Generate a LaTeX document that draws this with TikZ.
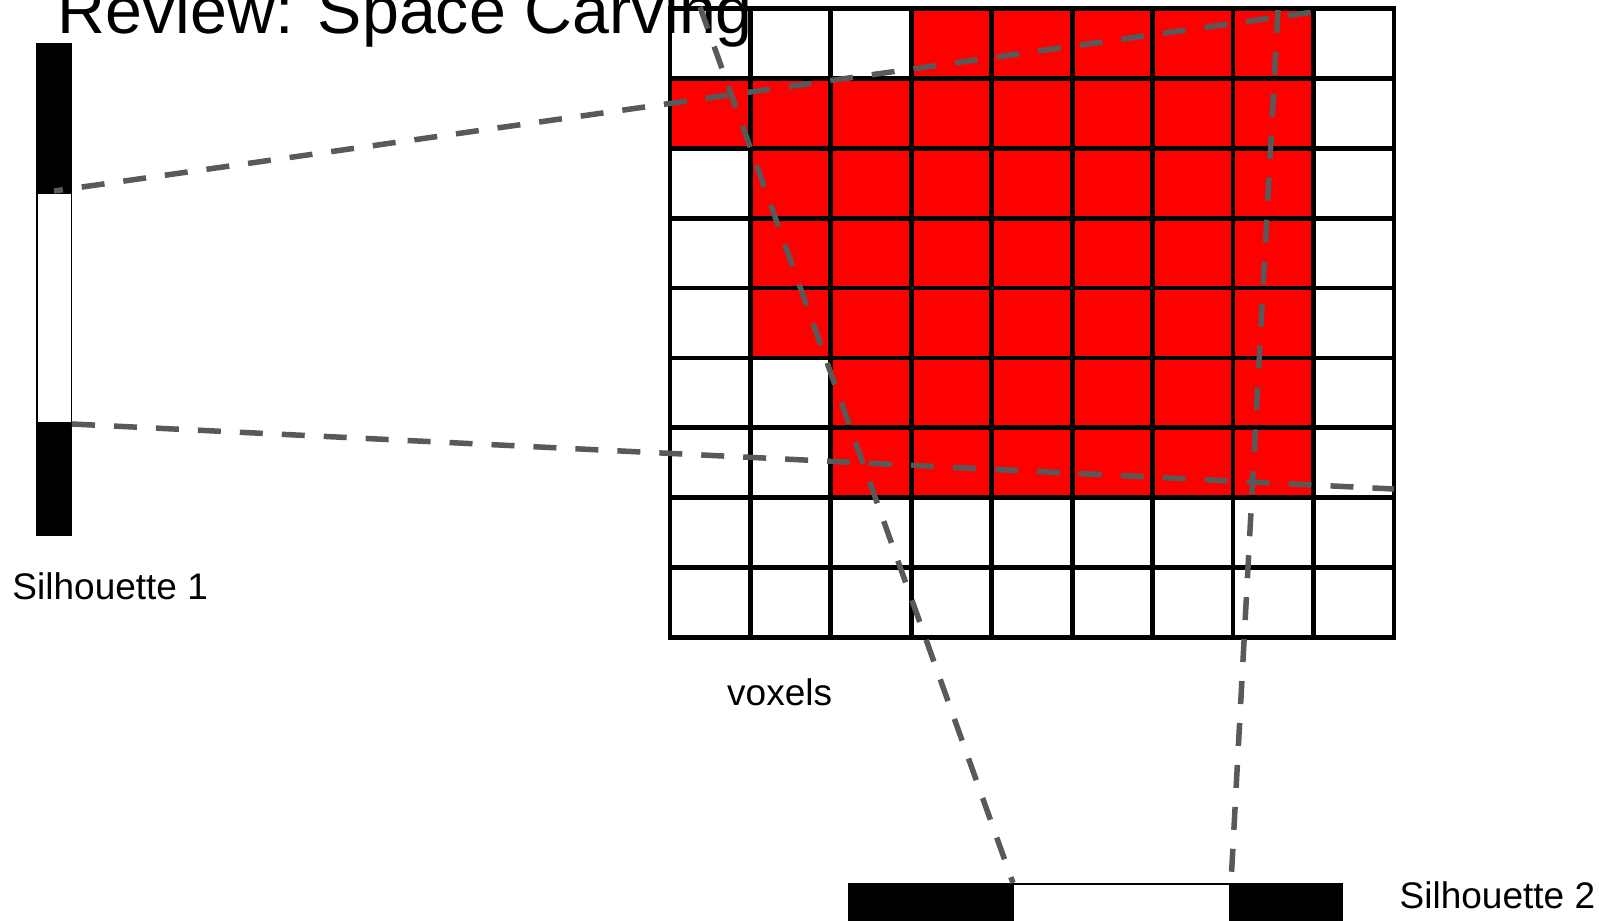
\documentclass[tikz,border=0pt]{standalone}
\usepackage{fontspec}
\setmainfont{Liberation Sans}
\definecolor{raygray}{RGB}{89,89,89}
\definecolor{voxred}{RGB}{255,0,0}
\begin{document}
\begin{tikzpicture}[x=1pt,y=-1pt,
  gridline/.style={line width=4.8pt, black, line cap=rect},
  ray/.style={draw=raygray, line width=5.5pt, dash pattern=on 23pt off 19pt},
  lbl/.style={inner sep=0pt, anchor=base west, font=\fontsize{37}{40}\selectfont},
  titlelbl/.style={inner sep=0pt, anchor=base west, font=\fontsize{66.3}{72}\selectfont},
  barblack/.style={fill=black, draw=none, inner sep=0pt, outer sep=0pt},
  barwhite/.style={fill=white, draw=black, line width=1.5pt, inner sep=0pt, outer sep=0pt},
]
\useasboundingbox (0,0) rectangle (1599,921);
\fill[white] (0,0) rectangle (1599,921);

% title
\node[titlelbl] (title) at (57.5,33.8) {Review: Space Carving};

% voxel grid
\node[inner sep=0pt, minimum width=724pt, minimum height=628.6pt] (voxgrid) at (1032,323) {};
\foreach \r/\a/\b in {0/3/7,1/0/7,2/1/7,3/1/7,4/1/7,5/2/7,6/2/7}
  \fill[voxred] ({670+\a*80.44},{8.7+\r*69.84}) rectangle ({670+(\b+1)*80.44},{8.7+(\r+1)*69.84});
\foreach \i in {0,...,9} {
  \draw[gridline] ({670+\i*80.44},8.7) -- ({670+\i*80.44},637.3);
  \draw[gridline] (670,{8.7+\i*69.84}) -- (1394,{8.7+\i*69.84});
}
\node[lbl] (voxlbl) at (727,705.7) {voxels};

% silhouette 1
\node[barblack, minimum width=36pt, minimum height=493pt] (s1) at (54,289.5) {};
\node[barwhite, minimum width=34.5pt, minimum height=230pt] (s1w) at (54,308) {};
\node[lbl] (s1lbl) at (12.3,599.3) {Silhouette 1};

% silhouette 2
\node[barblack, minimum width=495pt, minimum height=42pt] (s2) at (1095.5,904) {};
\node[barwhite, minimum width=217pt, minimum height=42pt] (s2w) at (1121.5,904.75) {};
\node[lbl] (s2lbl) at (1399.5,908.5) {Silhouette 2};

% ray end points
\coordinate (r1a) at (54,191);   \coordinate (r1b) at (1313,12);
\coordinate (r2a) at (72,424);   \coordinate (r2b) at (1394,489);
\coordinate (r3a) at (700,7);    \coordinate (r3b) at (1013,883);
\coordinate (r4a) at (1278,10);  \coordinate (r4b) at (1231,883);

\draw[ray, dash phase=14pt] (r1a) -- (r1b);
\draw[ray] (r2a) -- (r2b);
\draw[ray] (r3a) -- (r3b);
\draw[ray] (r4a) -- (r4b);
\end{tikzpicture}
\end{document}
